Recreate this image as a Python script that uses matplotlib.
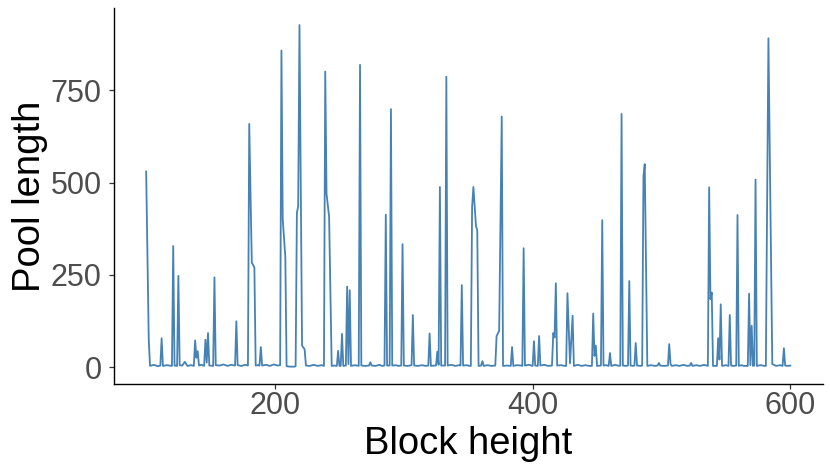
import matplotlib
matplotlib.use("Agg")
import matplotlib.pyplot as plt

# pool length per block height (line vertices)
block_height = [
    100, 102, 103, 106, 109, 111, 112, 113, 116, 120, 121, 122, 124, 125, 126,
    128, 130, 132, 135, 137, 138, 139, 140, 141, 143, 145, 146, 147, 148, 149,
    152, 153, 154, 157, 160, 163, 166, 169, 170, 171, 174, 177, 179, 180, 182,
    184, 185, 187, 188, 189, 190, 193, 196, 199, 202, 204, 205, 206, 208, 209,
    212, 215, 216, 217, 218, 219, 221, 223, 224, 227, 230, 233, 236, 238, 239,
    240, 242, 244, 246, 248, 249, 250, 251, 252, 253, 255, 256, 257, 258, 259,
    262, 265, 266, 267, 270, 273, 274, 275, 278, 281, 283, 285, 286, 287, 289,
    290, 291, 294, 296, 298, 299, 300, 303, 306, 307, 308, 311, 314, 317, 319,
    320, 321, 324, 325, 326, 327, 328, 329, 332, 333, 334, 337, 340, 343, 344,
    345, 346, 349, 351, 352, 353, 354, 356, 357, 358, 360, 361, 362, 365, 368,
    371, 372, 374, 376, 377, 380, 383, 384, 385, 388, 391, 392, 393, 394, 397,
    400, 401, 402, 404, 405, 406, 409, 412, 415, 416, 417, 418, 419, 422, 425,
    426, 427, 429, 431, 432, 435, 438, 441, 444, 446, 447, 448, 449, 450, 453,
    454, 455, 457, 459, 460, 461, 464, 467, 468, 469, 470, 472, 474, 475, 476,
    478, 479, 480, 481, 484, 485, 486, 487, 489, 492, 495, 497, 498, 499, 502,
    505, 506, 507, 508, 511, 514, 517, 520, 522, 523, 524, 527, 530, 533, 536,
    537, 538, 539, 540, 543, 544, 545, 546, 547, 550, 552, 553, 554, 556, 558,
    559, 560, 562, 564, 567, 568, 569, 570, 571, 572, 573, 574, 577, 580, 581,
    583, 586, 589, 592, 594, 595, 596, 598, 600,
]
pool_length = [
    530, 75, 3, 6, 2, 4, 78, 3, 5, 3, 328, 4, 3, 247, 5,
    4, 14, 3, 5, 3, 72, 25, 43, 4, 6, 3, 74, 12, 92, 4,
    3, 243, 5, 4, 7, 3, 6, 4, 124, 5, 3, 6, 4, 659, 283,
    270, 4, 5, 4, 54, 4, 6, 3, 7, 4, 5, 858, 400, 300, 2,
    1, 1, 2, 418, 436, 927, 58, 48, 4, 3, 6, 3, 5, 3, 801,
    470, 407, 3, 4, 3, 44, 3, 3, 90, 3, 4, 218, 8, 208, 3,
    5, 3, 819, 4, 3, 4, 13, 4, 3, 6, 3, 4, 413, 4, 4,
    699, 4, 5, 3, 4, 333, 4, 3, 5, 141, 4, 3, 5, 3, 4,
    91, 3, 4, 4, 42, 6, 488, 4, 4, 787, 4, 6, 3, 5, 4,
    222, 4, 5, 3, 3, 434, 488, 382, 371, 3, 4, 16, 3, 5, 3,
    4, 84, 98, 679, 3, 4, 3, 54, 3, 5, 4, 3, 322, 4, 6,
    3, 70, 4, 3, 84, 4, 6, 3, 4, 92, 80, 227, 4, 5, 3,
    3, 200, 10, 139, 3, 6, 3, 5, 3, 3, 145, 30, 58, 3, 4,
    398, 4, 5, 3, 38, 3, 6, 3, 4, 686, 4, 3, 4, 233, 4,
    3, 4, 65, 4, 3, 4, 516, 550, 3, 5, 3, 4, 11, 4, 3,
    4, 62, 8, 3, 5, 3, 6, 3, 4, 11, 3, 5, 3, 6, 3,
    487, 184, 202, 3, 3, 78, 20, 170, 3, 5, 3, 141, 4, 3, 4,
    412, 3, 5, 3, 3, 199, 5, 112, 3, 4, 508, 3, 5, 3, 3,
    891, 8, 3, 5, 3, 51, 4, 3, 4,
]
x_ticks = [200, 400, 600]
y_ticks = [0, 250, 500, 750]

plt.rcParams["font.family"] = ["Liberation Sans", "DejaVu Sans"]

fig = plt.figure(figsize=(8.3, 4.75), dpi=100)
ax = fig.add_axes([0.1373, 0.1916, 0.8537, 0.7914])

ax.plot(block_height, pool_length, color="#4682B4", lw=1.3, solid_joinstyle="round")

ax.set_xlim(75, 625)
ax.set_ylim(-46, 973)
ax.set_xticks(x_ticks)
ax.set_yticks(y_ticks)

for side in ["top", "right"]:
    ax.spines[side].set_visible(False)
for side in ["left", "bottom"]:
    ax.spines[side].set_linewidth(1.0)
    ax.spines[side].set_color("black")

ax.tick_params(axis="both", length=3.5, width=0.9, color="#333333",
               labelcolor="#4D4D4D", labelsize=22)
ax.tick_params(axis="x", pad=1.5)
ax.tick_params(axis="y", pad=5.5)

ax.set_xlabel("Block height", fontsize=27.5, color="black")
ax.set_ylabel("Pool length", fontsize=27.5, color="black")
ax.xaxis.set_label_coords(0.5, -0.113)
ax.yaxis.set_label_coords(-0.093, 0.5)

fig.savefig("out.png", dpi=100)
